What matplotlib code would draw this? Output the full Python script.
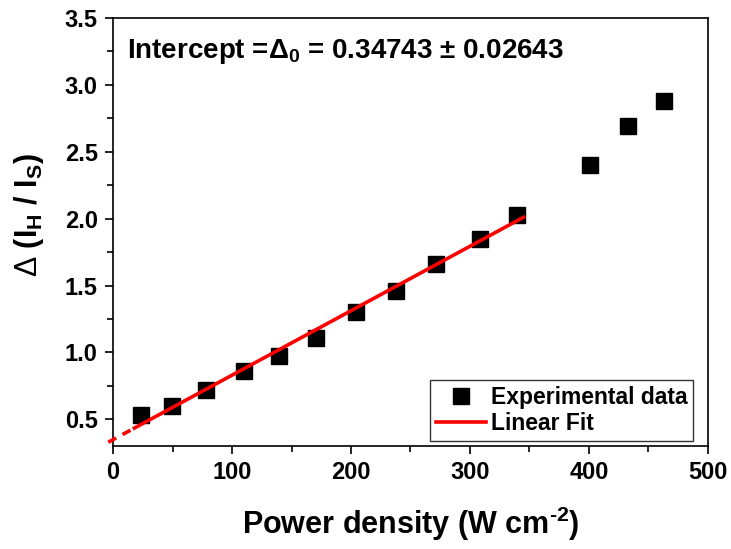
import numpy as np
import matplotlib
matplotlib.use('Agg')
import matplotlib.pyplot as plt
from matplotlib.ticker import MultipleLocator

plt.rcParams['font.family'] = ['Liberation Sans', 'DejaVu Sans']
plt.rcParams['font.weight'] = 'bold'
plt.rcParams['mathtext.fontset'] = 'custom'
plt.rcParams['mathtext.rm'] = 'Liberation Sans:bold'
plt.rcParams['mathtext.it'] = 'Liberation Sans:bold'
plt.rcParams['mathtext.bf'] = 'Liberation Sans:bold'
plt.rcParams['mathtext.sf'] = 'Liberation Sans:weight=normal'

# experimental data
power = [23.5, 49.6, 78, 110, 139.5, 170.6, 204, 238, 271.4, 308, 339.5, 401, 433, 463]
delta = [0.53, 0.60, 0.72, 0.86, 0.97, 1.11, 1.30, 1.46, 1.66, 1.85, 2.03, 2.40, 2.69, 2.88]

# linear fit
intercept = 0.34743
intercept_err = 0.02643
slope = 0.00482
fit_range = [18, 345]
extrap_range = [-4, 18]

fig = plt.figure(figsize=(7.31, 5.49), dpi=100)
ax = fig.add_axes([0.1546, 0.1876, 0.8139, 0.7796])

ax.plot(power, delta, 's', color='black', markersize=12, label='Experimental data', zorder=3)
xf = np.array(fit_range)
ax.plot(xf, intercept + slope * xf, '-', color='red', linewidth=2.6, label='Linear Fit', zorder=4)
xe = np.array(extrap_range)
ax.plot(xe, intercept + slope * xe, '--', color='red', linewidth=2.6, dashes=(2.5, 2), clip_on=False, zorder=4)

ax.set_xlim(0, 500)
ax.set_ylim(0.3, 3.5)
ax.xaxis.set_major_locator(MultipleLocator(100))
ax.xaxis.set_minor_locator(MultipleLocator(50))
ax.yaxis.set_major_locator(MultipleLocator(0.5))
ax.yaxis.set_minor_locator(MultipleLocator(0.25))
ax.tick_params(which='major', direction='out', length=6, width=1.2, labelsize=17, pad=5)
ax.tick_params(which='minor', direction='out', length=4, width=1.2)
for s in ax.spines.values():
    s.set_linewidth(1.2)

ax.set_xlabel(r'Power density (W cm$^{\text{-2}}$)', fontsize=22, fontweight='bold', labelpad=15)
ax.set_ylabel(r'$\mathsf{\Delta}$ (I$_{H}$ / I$_{S}$)', fontsize=22, fontweight='bold')
ax.yaxis.set_label_coords(-0.112, 0.54)

ax.text(0.024, 0.955, r'Intercept =$\Delta_0$ = %.5f $\pm$ %.5f' % (intercept, intercept_err),
        transform=ax.transAxes, fontsize=20, fontweight='bold', va='top', ha='left')

leg = ax.legend(loc='lower right', bbox_to_anchor=(0.975, 0.012), fontsize=16.5,
                frameon=True, fancybox=False, edgecolor='black', handlelength=2.2,
                handletextpad=0.2, borderpad=0.25, labelspacing=0.15, borderaxespad=0)
leg.get_frame().set_linewidth(1.0)

plt.savefig('out.png', dpi=100)
